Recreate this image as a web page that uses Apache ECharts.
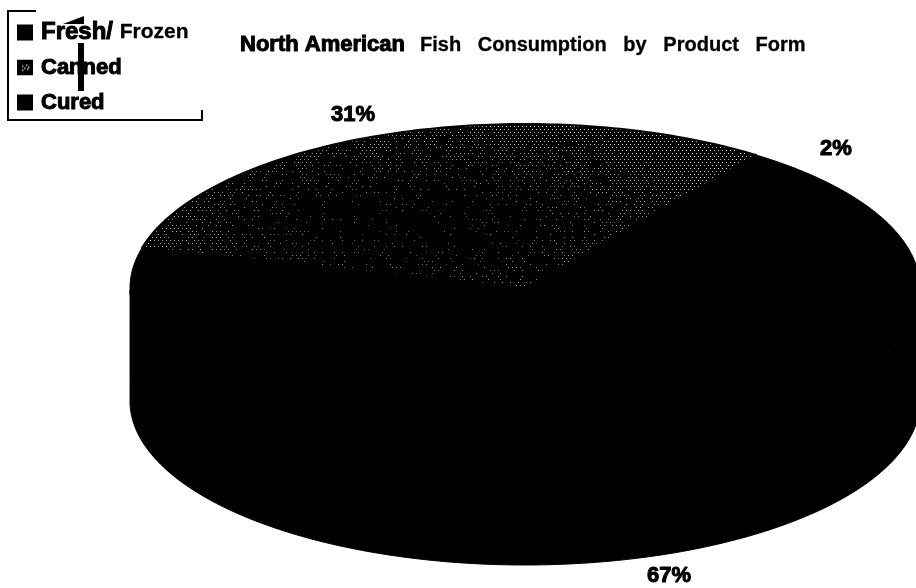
<!DOCTYPE html>
<html>
<head>
<meta charset="utf-8">
<style>html,body{margin:0;padding:0;background:#fff}#chart{width:916px;height:588px}</style>
<script src="https://cdn.jsdelivr.net/npm/echarts@6/dist/echarts.min.js"></script>
</head>
<body>
<div id="chart"></div>
<script>
// North American fish consumption, share by product form (percent)
const categories = ['Fresh/ Frozen', 'Canned', 'Cured'];
const shareValues = [67, 31, 2];
const titleText = 'North American Fish Consumption by Product Form';

// Disc geometry: a tilted pie drawn as an ellipse plus an extruded wall
const disc = { cx: 525, cy: 288, rx: 395, ry: 164, depth: 113, startAngle: 47 };
const labelAnchors = [[669, 576], [353, 115], [836, 149]];

const total = shareValues.reduce((a, b) => a + b, 0);
function sliceAngles(i) {
  let from = disc.startAngle;
  for (let k = 0; k < i; k++) from -= shareValues[k] / total * 360;
  return [from, from - shareValues[i] / total * 360];
}
function rimPoint(deg, dy) {
  const r = deg * Math.PI / 180;
  return [disc.cx + disc.rx * Math.cos(r), disc.cy - disc.ry * Math.sin(r) + (dy || 0)];
}

// Stipple for the canned slice: a staggered one-pixel dot lattice that thins
// out toward the middle of the slice and is fullest along its far ends.
function stipple() {
  const c = document.createElement('canvas');
  c.width = 916; c.height = 588;
  const g = c.getContext('2d');
  g.fillStyle = '#000';
  g.fillRect(0, 0, 916, 588);
  let seed = 12345;
  const next = () => { seed = (seed * 1103515245 + 12345) & 0x7fffffff; return seed / 0x7fffffff; };
  for (let row = 0, y = 120; y < 300; row++, y += 3) {
    for (let x = 130 + (row % 2 ? 2 : 0); x < 780; x += 4) {
      const u = (x - 410) / 250, v = (y - 225) / 85;
      const d = Math.sqrt(u * u + v * v);
      const keep = Math.min(0.97, 0.12 + Math.pow(d, 2.2) * 0.55);
      if (next() < keep) {
        const a = 0.25 + 0.25 * next() + 0.45 * Math.min(1, d * d / 1.6);
        g.fillStyle = 'rgba(255,255,255,' + a.toFixed(2) + ')';
        g.fillRect(x, y, 1, 1);
      }
    }
  }
  return c;
}
// Swatch pattern for the canned legend key
function swatch() {
  const c = document.createElement('canvas');
  c.width = 16; c.height = 16;
  const g = c.getContext('2d');
  g.fillStyle = '#000';
  g.fillRect(0, 0, 16, 16);
  g.fillStyle = '#ccc';
  [[5, 6], [9, 5], [7, 8], [10, 9], [5, 10], [11, 7]].forEach(p => g.fillRect(p[0], p[1], 1.5, 1.5));
  return c;
}
const cannedFill = { image: stipple(), repeat: 'no-repeat' };
const fills = ['#000', cannedFill, '#000'];

function renderSlice(params, api) {
  const i = params.seriesIndex;
  const value = api.value(0);
  const [a0, a1] = sliceAngles(i);
  const top = [[disc.cx, disc.cy]];
  const wall = [];
  const steps = Math.max(2, Math.ceil(Math.abs(a0 - a1)));
  for (let s = 0; s <= steps; s++) {
    const a = a0 + (a1 - a0) * s / steps;
    top.push(rimPoint(a));
    if (Math.sin(a * Math.PI / 180) <= 0) wall.push(a);
  }
  const children = [];
  if (wall.length) {
    const pts = wall.map(a => rimPoint(a)).concat(wall.slice().reverse().map(a => rimPoint(a, disc.depth)));
    children.push({ type: 'polygon', shape: { points: pts }, style: { fill: '#000', stroke: '#000', lineWidth: 1 } });
  }
  children.push({
    type: 'polygon', shape: { points: top },
    style: { fill: fills[i], stroke: '#000', lineWidth: i === 1 ? 2 : 1, lineJoin: 'round' }
  });
  children.push({
    type: 'text', x: labelAnchors[i][0], y: labelAnchors[i][1], z2: 50,
    style: {
      text: value + '%', fill: '#000', align: 'center', verticalAlign: 'middle',
      font: 'bold 22px "Liberation Sans", Arial, sans-serif', stroke: '#000', lineWidth: 1
    }
  });
  return { type: 'group', children };
}

const [titleHead, titleTail] = [titleText.slice(0, 14), titleText.slice(15).split(' ').join('   ')];
const FONT = '"Liberation Sans", Arial, sans-serif';
const heavy = { fontFamily: FONT, fontWeight: 'bold', fontSize: 22, color: '#000', textBorderColor: '#000', textBorderWidth: 1 };
const plain = { fontFamily: FONT, fontWeight: 'bold', fontSize: 20, color: '#000', textBorderColor: '#000', textBorderWidth: 0.3 };
const wide = Object.assign({}, heavy, { fontSize: 24, lineHeight: 25 });

const chart = echarts.init(document.getElementById('chart'), null, { renderer: 'canvas' });
chart.setOption({
  animation: false,
  backgroundColor: '#fff',
  title: {
    left: 240, top: 34, padding: 0,
    text: '{a|' + titleHead + '}   {b|' + titleTail + '}',
    textStyle: { rich: { a: heavy, b: plain } }
  },
  legend: {
    left: 17, top: 20, padding: 0, orient: 'vertical', icon: 'rect',
    itemWidth: 16, itemHeight: 16, itemGap: 10, selectedMode: false,
    data: [
      { name: categories[0], itemStyle: { color: '#000' } },
      { name: categories[1], itemStyle: { color: { image: swatch(), repeat: 'no-repeat' } } },
      { name: categories[2], itemStyle: { color: '#000' } }
    ],
    formatter: n => {
      const parts = n.split(' ');
      return parts.length > 1 ? '{f|' + parts[0] + '}  {p|' + parts[1] + '}' : '{h|' + n + '}';
    },
    textStyle: {
      padding: [0, 0, 0, 3], lineHeight: 25,
      rich: {
        f: wide,
        h: Object.assign({}, heavy, { lineHeight: 25 }),
        p: Object.assign({}, plain, { fontSize: 21, lineHeight: 25 })
      }
    }
  },
  series: categories.map((name, i) => ({
    type: 'custom', name, coordinateSystem: 'none',
    data: [[shareValues[i]]], renderItem: renderSlice, clip: false,
    itemStyle: { color: '#000' }, silent: true
  })),
  graphic: [
    { type: 'polyline', z: 100, shape: { points: [[36, 11], [8, 11], [8, 120], [202, 120], [202, 110]] }, style: { stroke: '#000', lineWidth: 2, fill: null } },
    { type: 'rect', z: 100, shape: { x: 78, y: 43, width: 6, height: 48 }, style: { fill: '#000' } },
    { type: 'polygon', z: 100, shape: { points: [[63, 24], [84, 16], [84, 24]] }, style: { fill: '#000' } }
  ]
});
</script>
</body>
</html>
